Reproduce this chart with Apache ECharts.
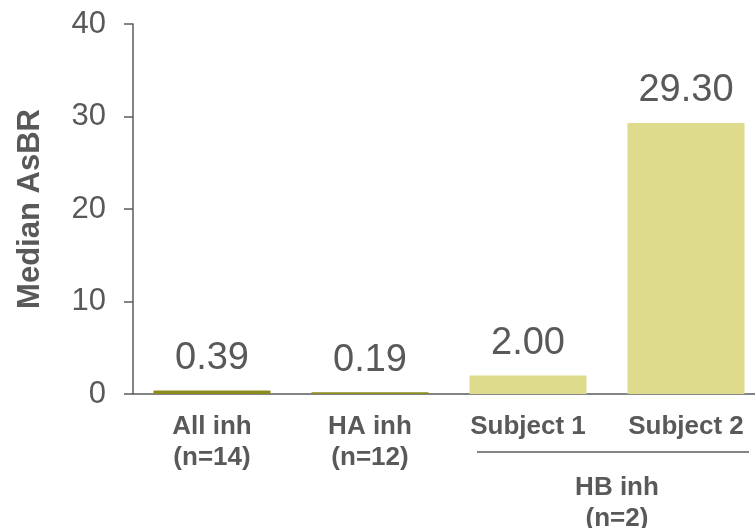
<!DOCTYPE html>
<html>
<head>
<meta charset="utf-8">
<script src="https://cdn.jsdelivr.net/npm/echarts@6/dist/echarts.min.js"></script>
<style>
  html, body { margin: 0; padding: 0; background: #ffffff; overflow: hidden; }
  #chart { width: 766px; height: 528px; }
</style>
</head>
<body>
<div id="chart"></div>
<script>
// Median AsBR by inhibitor group; the last band runs slightly past the page edge
var categories = ['All inh\n(n=14)', 'HA inh\n(n=12)', 'Subject 1', 'Subject 2'];
var medianAsBR = [0.39, 0.19, 2.00, 29.30];
var groups = ['overall', 'overall', 'HB', 'HB'];
var yTicks = { min: 0, max: 40, interval: 10 };
var axisTitle = 'Median AsBR';
var groupLabel = 'HB inh\n(n=2)';
var bracketMembers = ['Subject 1', 'Subject 2'];

var TEXT = '#595959';
var AXIS = '#595d61';
var FONT = '"Liberation Sans", Arial, sans-serif';
var groupColors = { overall: '#8c8c1c', HB: '#dedc8c' };

var chart = echarts.init(document.getElementById('chart'), null, { renderer: 'canvas' });

chart.setOption({
  animation: false,
  backgroundColor: '#ffffff',
  grid: { left: 133, top: 24, right: 1, bottom: 134, containLabel: false },
  xAxis: {
    type: 'category',
    data: categories,
    axisLine: { show: true, lineStyle: { color: AXIS, width: 1.5 } },
    axisTick: { show: false },
    axisLabel: {
      interval: 0,
      margin: 17,
      color: TEXT,
      fontFamily: FONT,
      fontWeight: 'bold',
      fontSize: 26,
      lineHeight: 31
    }
  },
  yAxis: {
    type: 'value',
    min: yTicks.min,
    max: yTicks.max,
    interval: yTicks.interval,
    name: axisTitle,
    nameLocation: 'middle',
    nameGap: 87,
    nameRotate: 90,
    nameTextStyle: {
      color: TEXT,
      fontFamily: FONT,
      fontWeight: 'bold',
      fontSize: 31
    },
    axisLine: { show: true, lineStyle: { color: AXIS, width: 1.5 } },
    axisTick: { show: true, inside: false, length: 9, lineStyle: { color: AXIS, width: 1.5 } },
    splitLine: { show: false },
    axisLabel: {
      margin: 27,
      color: TEXT,
      fontFamily: FONT,
      fontSize: 31
    }
  },
  series: [{
    type: 'bar',
    data: medianAsBR,
    barWidth: 117,
    itemStyle: {
      color: function (p) { return groupColors[groups[p.dataIndex]]; }
    },
    label: {
      show: true,
      position: 'top',
      distance: 13,
      color: TEXT,
      fontFamily: FONT,
      fontSize: 38,
      lineHeight: 38,
      formatter: function (p) { return p.value.toFixed(2); }
    }
  }]
});

// Bracket and caption spanning the HB inh subjects
var xa = chart.convertToPixel({ xAxisIndex: 0 }, bracketMembers[0]);
var xb = chart.convertToPixel({ xAxisIndex: 0 }, bracketMembers[1]);
var yBase = chart.convertToPixel({ yAxisIndex: 0 }, 0);
var lineY = yBase + 58;
var x1 = xa - 51;
var x2 = xb + 63;
chart.setOption({
  graphic: [
    {
      type: 'line',
      shape: { x1: x1, y1: lineY, x2: x2, y2: lineY },
      style: { stroke: AXIS, lineWidth: 1.5 },
      silent: true
    },
    {
      type: 'text',
      x: (x1 + x2) / 2 + 4,
      y: lineY + 20,
      style: {
        text: groupLabel,
        fill: TEXT,
        font: 'bold 26px ' + FONT,
        lineHeight: 31,
        align: 'center',
        verticalAlign: 'top'
      },
      silent: true
    }
  ]
});
</script>
</body>
</html>
